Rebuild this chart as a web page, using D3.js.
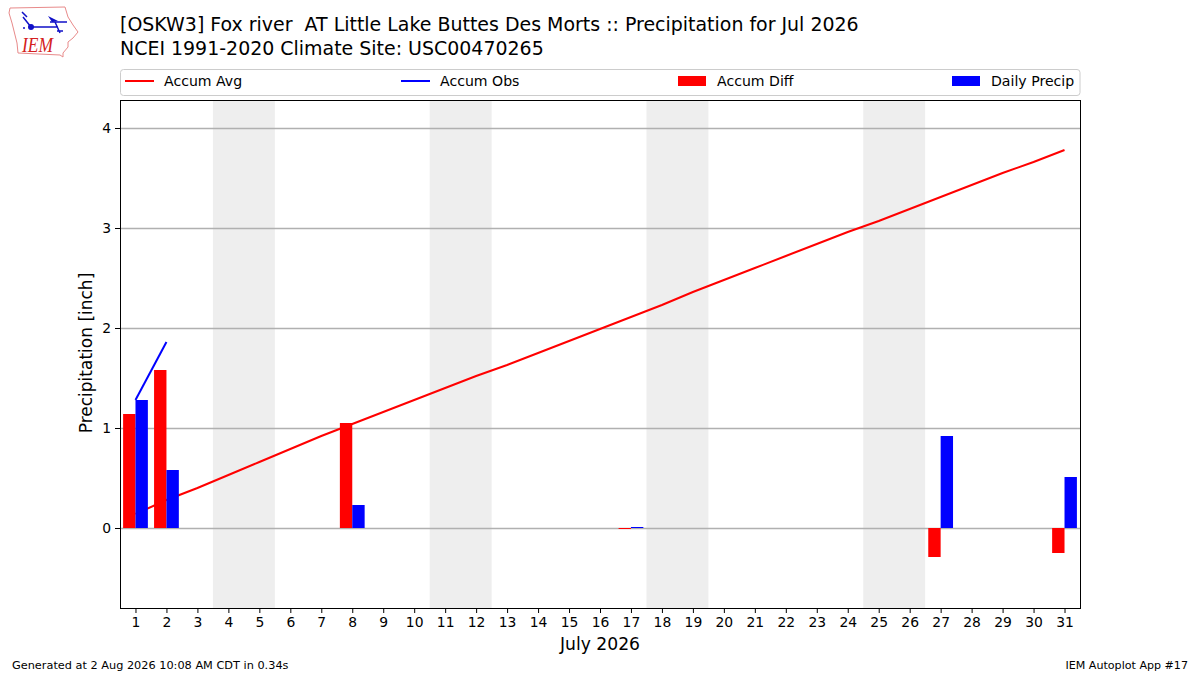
<!DOCTYPE html>
<html>
<head>
<meta charset="utf-8">
<script src="https://cdn.jsdelivr.net/npm/d3@7"></script>
<style>
  html, body { margin: 0; padding: 0; background: #fff; }
  text { font-family: "DejaVu Sans", sans-serif; fill: #000; white-space: pre; }
</style>
</head>
<body>
<div id="chart"></div>
<script>
// ─── DATA ───────────────────────────────────────────────────────────────────
const days = d3.range(1, 32);
const accumAvg = [0.14, 0.28, 0.40, 0.53, 0.66, 0.79, 0.92, 1.04, 1.16, 1.28, 1.40,
  1.52, 1.63, 1.75, 1.87, 1.99, 2.11, 2.23, 2.36, 2.48, 2.60, 2.72, 2.84, 2.96, 3.07,
  3.19, 3.31, 3.43, 3.55, 3.66, 3.78];
const obsDays = [1, 2];
const accumObs = [1.28, 1.86];
const diffDays = [1, 2, 8, 17, 27, 31];
const accumDiff = [1.14, 1.58, 1.05, -0.01, -0.29, -0.25];
const precipDays = [1, 2, 8, 17, 27, 31];
const dailyPrecip = [1.28, 0.58, 0.23, 0.01, 0.92, 0.51];
const weekends = [[3.5, 5.5], [10.5, 12.5], [17.5, 19.5], [24.5, 26.5]];
const yTicks = [0, 1, 2, 3, 4];
const titleLines = ['[OSKW3] Fox river  AT Little Lake Buttes Des Morts :: Precipitation for Jul 2026',
  'NCEI 1991-2020 Climate Site: USC00470265'];

// ─── CANVAS ─────────────────────────────────────────────────────────────────
const width = 1200, height = 675;
const margin = {top: 100, right: 120, bottom: 67, left: 120};
const svg = d3.select('#chart').append('svg')
  .attr('width', width).attr('height', height)
  .style('display', 'block').style('background', '#fff');

// ─── SCALES ─────────────────────────────────────────────────────────────────
const x = d3.scaleLinear().domain([0.5, 31.5]).range([margin.left, width - margin.right]);
const y = d3.scaleLinear().domain([-0.8, 4.28]).range([height - margin.bottom, margin.top]);
const barW = 0.4;

// ─── WEEKEND SPANS ──────────────────────────────────────────────────────────
svg.selectAll('.weekend').data(weekends).enter().append('rect')
  .attr('x', d => x(d[0])).attr('width', d => x(d[1]) - x(d[0]))
  .attr('y', margin.top).attr('height', y.range()[0] - margin.top)
  .attr('fill', '#eeeeee');

// ─── GRID ───────────────────────────────────────────────────────────────────
svg.selectAll('.grid').data(yTicks).enter().append('line')
  .attr('x1', margin.left).attr('x2', width - margin.right)
  .attr('y1', d => y(d) + 0.5).attr('y2', d => y(d) + 0.5)
  .attr('stroke', '#b0b0b0').attr('stroke-width', 1.3);

// ─── LINES ──────────────────────────────────────────────────────────────────
const line = d3.line().x(d => x(d[0])).y(d => y(d[1]));
svg.append('path').datum(d3.zip(days, accumAvg)).attr('d', line)
  .attr('fill', 'none').attr('stroke', '#ff0000').attr('stroke-width', 2);
svg.append('path').datum(d3.zip(obsDays, accumObs)).attr('d', line)
  .attr('fill', 'none').attr('stroke', '#0000ff').attr('stroke-width', 2);

// ─── BARS ───────────────────────────────────────────────────────────────────
svg.selectAll('.diff').data(d3.zip(diffDays, accumDiff)).enter().append('rect')
  .attr('x', d => x(d[0] - barW)).attr('width', x(barW) - x(0))
  .attr('y', d => y(Math.max(0, d[1]))).attr('height', d => Math.abs(y(d[1]) - y(0)))
  .attr('fill', '#ff0000');
svg.selectAll('.precip').data(d3.zip(precipDays, dailyPrecip)).enter().append('rect')
  .attr('x', d => x(d[0])).attr('width', x(barW) - x(0))
  .attr('y', d => y(d[1])).attr('height', d => y(0) - y(d[1]))
  .attr('fill', '#0000ff');

// ─── AXES ───────────────────────────────────────────────────────────────────
const xAxis = svg.append('g').attr('transform', `translate(0, ${y.range()[0]})`)
  .call(d3.axisBottom(x).tickValues(days).tickFormat(d3.format('d')).tickSize(5).tickPadding(4));
const yAxis = svg.append('g').attr('transform', `translate(${margin.left}, 0)`)
  .call(d3.axisLeft(y).tickValues(yTicks).tickFormat(d3.format('d')).tickSize(5).tickPadding(4));
[xAxis, yAxis].forEach(a => {
  a.selectAll('.domain').remove();
  a.selectAll('line').attr('stroke', '#000').attr('stroke-width', 1);
  a.selectAll('text').style('font-family', '"DejaVu Sans"').style('font-size', '13.9px').attr('fill', '#000');
});
// frame
svg.append('rect')
  .attr('x', margin.left + 0.5).attr('y', margin.top + 0.5)
  .attr('width', width - margin.right - margin.left).attr('height', y.range()[0] - margin.top)
  .attr('fill', 'none').attr('stroke', '#000').attr('stroke-width', 1);

// ─── TEXT LABELS ────────────────────────────────────────────────────────────
svg.selectAll('.title').data(titleLines).enter().append('text')
  .attr('x', 120).attr('y', (d, i) => 31 + i * 23.5)
  .style('font-size', '18.97px').text(d => d);
svg.append('text').attr('x', 600).attr('y', 650).attr('text-anchor', 'middle')
  .style('font-size', '17.2px').text('July 2026');
svg.append('text').attr('transform', 'translate(92, 353) rotate(-90)').attr('text-anchor', 'middle')
  .style('font-size', '17px').text('Precipitation [inch]');
svg.append('text').attr('x', 12).attr('y', 669).style('font-size', '11.3px')
  .text('Generated at 2 Aug 2026 10:08 AM CDT in 0.34s');
svg.append('text').attr('x', 1188).attr('y', 669).attr('text-anchor', 'end').style('font-size', '11.1px')
  .text('IEM Autoplot App #17');

// ─── LEGEND ─────────────────────────────────────────────────────────────────
svg.append('rect').attr('x', 120.5).attr('y', 69.5).attr('width', 959.5).attr('height', 26).attr('rx', 3)
  .attr('fill', '#fff').attr('stroke', '#cccccc');
const legendItems = [
  {label: 'Accum Avg', color: '#ff0000', kind: 'line', x: 125},
  {label: 'Accum Obs', color: '#0000ff', kind: 'line', x: 401},
  {label: 'Accum Diff', color: '#ff0000', kind: 'bar', x: 678},
  {label: 'Daily Precip', color: '#0000ff', kind: 'bar', x: 952}
];
legendItems.forEach(d => {
  if (d.kind === 'line') {
    svg.append('line').attr('x1', d.x).attr('x2', d.x + 29).attr('y1', 81).attr('y2', 81)
      .attr('stroke', d.color).attr('stroke-width', 2);
  } else {
    svg.append('rect').attr('x', d.x).attr('y', 76).attr('width', 28).attr('height', 10).attr('fill', d.color);
  }
  svg.append('text').attr('x', d.x + 39).attr('y', 86).style('font-size', '14.1px').text(d.label);
});

// ─── LOGO ───────────────────────────────────────────────────────────────────
const logo = svg.append('g');
logo.append('path')
  .attr('d', 'M10 8 L65 7 L68 17 L73 25 L78 32 L73 38 L68 42 L68 47 L63 53 L63 57 L60 55 L18 53 L17 43 L12 23 L9 13 Z')
  .attr('fill', 'none').attr('stroke', '#e88a8a').attr('stroke-width', 1);
logo.append('path')
  .attr('d', 'M31 27 L58 27 M50 22 L67 22 M55 22 L60 33 M31 27 L23 17 M22 12 L27 17 M57 31 L63 31')
  .attr('fill', 'none').attr('stroke', '#1010c8').attr('stroke-width', 1.5);
logo.append('circle').attr('cx', 31).attr('cy', 27).attr('r', 3).attr('fill', '#1010c8');
logo.append('circle').attr('cx', 24).attr('cy', 28).attr('r', 1).attr('fill', '#1010c8');
logo.append('path').attr('d', 'M48 16 L58 21 L52 22 Z').attr('fill', '#1010c8');
logo.append('text').attr('x', 22).attr('y', 52)
  .attr('textLength', 31).attr('lengthAdjust', 'spacingAndGlyphs')
  .style('font-family', '"Liberation Serif", serif').style('font-style', 'italic')
  .style('font-size', '20px').style('fill', '#d42020').text('IEM');
</script>
</body>
</html>
